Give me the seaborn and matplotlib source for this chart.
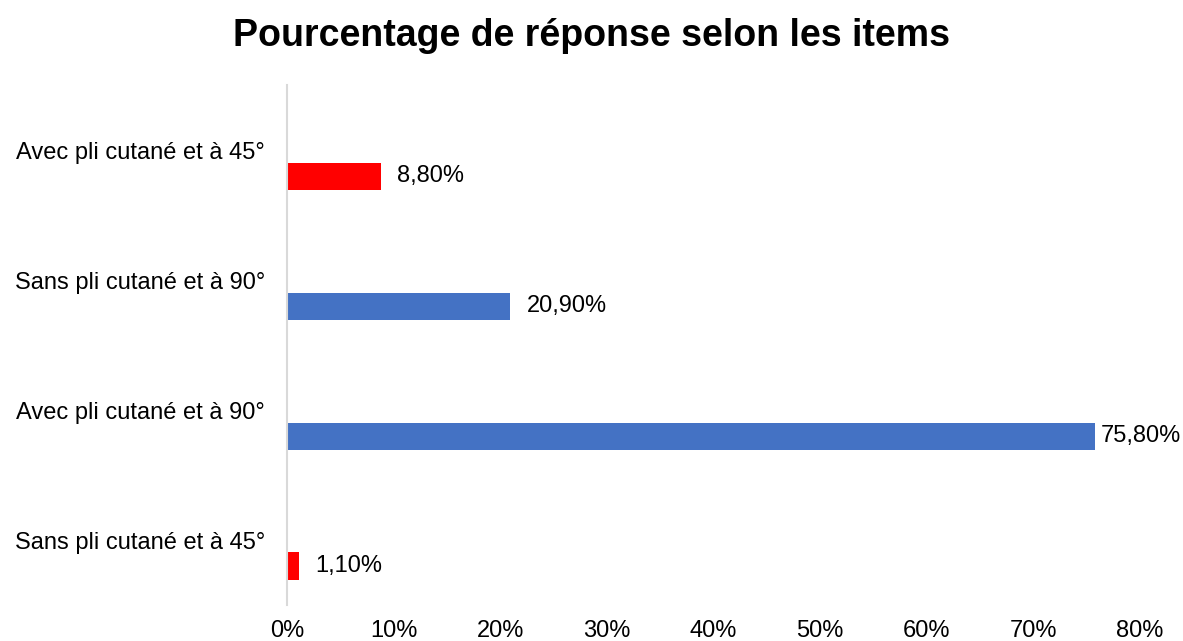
import numpy as np
import pandas as pd
import seaborn as sns
import matplotlib.pyplot as plt
from matplotlib.ticker import FuncFormatter

categories = [
    'Avec pli cutané et à 45°',
    'Sans pli cutané et à 90°',
    'Avec pli cutané et à 90°',
    'Sans pli cutané et à 45°',
]
values = [8.8, 20.9, 75.8, 1.1]
angles = ['45°', '90°', '90°', '45°']
palette = {'45°': '#FF0000', '90°': '#4472C4'}

sns.set_theme(style='white')
plt.rcParams['font.family'] = ['Liberation Sans', 'DejaVu Sans']
plt.rcParams['text.color'] = 'black'
plt.rcParams['xtick.color'] = 'black'
plt.rcParams['ytick.color'] = 'black'

df = pd.DataFrame({'item': categories, 'pct': values, 'angle': angles})

fig, ax = plt.subplots(figsize=(11.83, 6.41), dpi=100)
fig.subplots_adjust(left=0.2426, right=0.9637, top=0.867, bottom=0.056)

sns.barplot(
    data=df,
    x='pct',
    y='item',
    hue='angle',
    palette=palette,
    dodge=False,
    width=0.21,
    saturation=1,
    linewidth=0,
    legend=False,
    ax=ax,
)

# bars sit a bit below the category label (Excel style)
n = len(categories)
offset = 0.2
ax.set_ylim(n - 0.5 - offset, -0.5 - offset)
ax.set_yticks(np.arange(n) - offset)
ax.set_yticklabels(categories, fontsize=17)

for i, v in enumerate(values):
    pad = 12 if v < 70 else 4  # Excel squeezes the label near the edge
    ax.annotate(
        f'{v:.2f}'.replace('.', ',') + '%',
        xy=(v, i),
        xytext=(pad, 0),
        textcoords='offset points',
        va='center',
        ha='left',
        fontsize=17,
        color='black',
    )

ax.set_xlim(0, 80)
ax.set_xticks(np.arange(0, 81, 10))
ax.xaxis.set_major_formatter(FuncFormatter(lambda x, _: f'{x:.0f}%'))
ax.tick_params(axis='x', labelsize=17, length=0, pad=11)
ax.tick_params(axis='y', length=0, pad=16)
ax.set_xlabel('')
ax.set_ylabel('')

for s in ['top', 'right', 'bottom']:
    ax.spines[s].set_visible(False)
ax.spines['left'].set_color('#D9D9D9')
ax.spines['left'].set_linewidth(1.5)

fig.suptitle('Pourcentage de réponse selon les items', fontsize=27,
             fontweight='bold', y=0.972, color='black')

plt.savefig('out.png', dpi=100)
